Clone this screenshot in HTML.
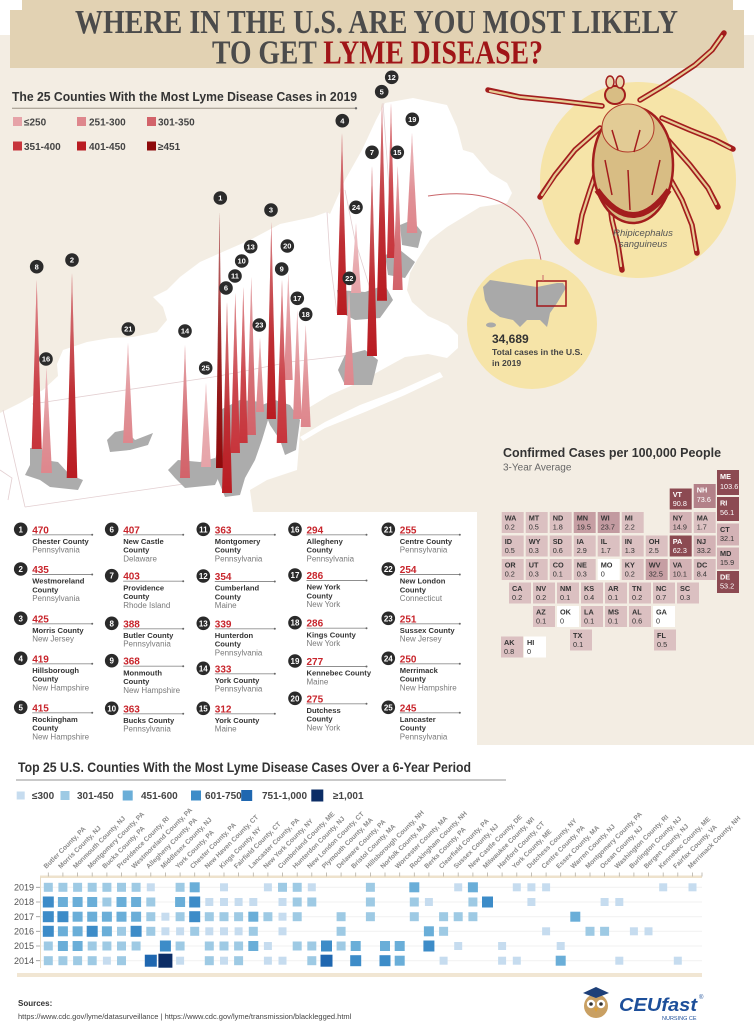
<!DOCTYPE html>
<html><head><meta charset="utf-8"><style>
html,body{margin:0;padding:0;background:#fff}
svg{display:block}
.nm{font-family:"Liberation Sans",sans-serif;font-weight:bold;font-size:7.6px;fill:#333}
.st{font-family:"Liberation Sans",sans-serif;font-size:8px;fill:#7a7a7a}
.num{font-family:"Liberation Sans",sans-serif;font-weight:bold;font-size:10px;fill:#c8252c}
.cn{font-family:"Liberation Sans",sans-serif;font-weight:bold;font-size:8px;fill:#fff;text-anchor:middle}
.sn{font-family:"Liberation Sans",sans-serif;font-weight:bold;font-size:7.5px;fill:#fff;text-anchor:middle}
.ul{stroke:#8f8f8f;stroke-width:0.9}
.lg{font-family:"Liberation Sans",sans-serif;font-weight:bold;font-size:10px;fill:#444}
.ta{font-family:"Liberation Sans",sans-serif;font-weight:bold;font-size:7.3px}
.tv{font-family:"Liberation Sans",sans-serif;font-size:7.3px}
.cl{font-family:"Liberation Sans",sans-serif;font-weight:bold;font-size:6.7px;fill:#8a8a8a}
.yr{font-family:"Liberation Sans",sans-serif;font-size:9px;fill:#555;text-anchor:end}
.sl{stroke:#e3cfd1;stroke-width:0.8;fill:none}
</style></head><body>
<svg width="754" height="1035" viewBox="0 0 754 1035" xmlns="http://www.w3.org/2000/svg">
<defs>
<rect id="h1" x="-4" y="-4" width="8" height="8" fill="#c6dcef"/>
<rect id="h2" x="-4.5" y="-4.5" width="9" height="9" fill="#9ecae4"/>
<rect id="h3" x="-5" y="-5" width="10" height="10" fill="#6aaed8"/>
<rect id="h4" x="-5.5" y="-5.5" width="11" height="11" fill="#3d8cc8"/>
<rect id="h5" x="-6" y="-6" width="12" height="12" fill="#1f67b0"/>
<rect id="h6" x="-7" y="-7" width="14" height="14" fill="#0c2d66"/>
<linearGradient id="fd" x1="0" y1="0" x2="0" y2="1">
<stop offset="0" stop-color="#fff" stop-opacity="0.45"/>
<stop offset="0.6" stop-color="#fff" stop-opacity="0.08"/>
<stop offset="1" stop-color="#fff" stop-opacity="0"/>
</linearGradient>
<polygon id="s19" points="412,133 406.7,233 417.3,233"/>
<polygon id="s12" points="391,103 387,258 395,258"/>
<polygon id="s15" points="397.7,166 392.7,290 402.7,290"/>
<polygon id="s24" points="356,223 351,293 361,293"/>
<polygon id="s5" points="382,103 377,300.7 387,300.7"/>
<polygon id="s4" points="342,133 337,315 347,315"/>
<polygon id="s7" points="372,166 367,356 377,356"/>
<polygon id="s20" points="288.3,273 284,380 292.7,380"/>
<polygon id="s22" points="349,290 344,385 354,385"/>
<polygon id="s23" points="260,338 256,412 264,412"/>
<polygon id="s3" points="271.3,222 266.7,419 276,419"/>
<polygon id="s17" points="297.3,310 293,419 301.7,419"/>
<polygon id="s18" points="305.7,325 300.7,427 310.7,427"/>
<polygon id="s13" points="251.3,277 246.7,435 256,435"/>
<polygon id="s9" points="282,280 276.7,443 287.3,443"/>
<polygon id="s10" points="243.3,287 239,443 247.7,443"/>
<polygon id="s21" points="128,343 123,443 133,443"/>
<polygon id="s8" points="36.7,280 31.7,449 41.7,449"/>
<polygon id="s11" points="235.3,293 230.7,453 240,453"/>
<polygon id="s25" points="206,383 201,467 211,467"/>
<polygon id="s1" points="219.5,212 216,468 223,468"/>
<polygon id="s16" points="46.5,368 41,473 52,473"/>
<polygon id="s2" points="72,273 66.7,478 77.3,478"/>
<polygon id="s14" points="185,345 180,478 190,478"/>
<polygon id="s6" points="227,302 222,493 232,493"/>
</defs>
<!-- backgrounds -->
<rect x="0" y="0" width="754" height="1035" fill="#fff"/>
<rect x="0" y="35" width="754" height="710" fill="#f3ede3"/>
<polygon points="22,0 733,0 733,10 744,10 744,68 10,68 10,10 22,10" fill="#e2d2b3"/>
<text x="75" y="33" font-family="Liberation Serif,serif" font-weight="bold" font-size="34" fill="#4b4b4b" textLength="603" lengthAdjust="spacingAndGlyphs">WHERE IN THE U.S. ARE YOU MOST LIKELY</text>
<text x="212" y="63.5" font-family="Liberation Serif,serif" font-weight="bold" font-size="34" fill="#4b4b4b" textLength="331" lengthAdjust="spacingAndGlyphs">TO GET <tspan fill="#a01518">LYME DISEASE?</tspan></text>

<!-- map land -->
<path d="M0,413 L20,403 L43,390 L58,376 L57,364 L63,350 L87,342 L110,338 L133,337 L157,332 L167,320 L163,307 L153,297 L167,290 L180,277 L200,262 L227,250 L250,240 L280,224 L313,217 L327,212 L330,214 L345,180 L362,150 L376,120 L385,103 L413,98 L447,105 L457,127 L463,150 L473,153 L490,173 L507,183 L512,193 L507,203 L480,207 L447,227 L430,240 L417,260 L410,273 L407,290 L412,302 L428,316 L448,325 L458,335 L458,348 L447,358 L428,354 L405,357 L385,368 L360,382 L330,395 L305,410 L300,433 L297,470 L267,480 L250,490 L253,512 L0,512 Z" fill="#fff"/>
<path d="M300,437 L325,422 L360,405 L400,390 L440,372 L443,377 L405,395 L365,412 L325,428 L303,441 Z" fill="#fff"/>
<!-- state lines -->
<path class="sl" d="M3,410 L25,507 M32,404 L213,377 L240,372 L290,362 L360,354 M25,507 L177,485 L215,480 M327,212 L330,260 L337,313 M345,190 L355,240 L372,295 M383,103 L392,230 M0,470 L12,478 L8,500"/>
<!-- gray counties -->
<g fill="#acacac">
<polygon points="30,448 42,448 44,460 58,462 70,475 83,480 78,490 50,487 40,480 25,475 30,465"/>
<polygon points="107,440 115,432 125,430 135,440 153,433 148,445 130,450 110,452"/>
<polygon points="168,470 178,460 200,462 215,458 222,470 215,485 185,488 175,478"/>
<polygon points="220,410 240,400 262,402 268,420 262,440 255,460 245,478 240,495 225,497 218,480 215,460 220,440"/>
<polygon points="262,405 275,400 290,405 300,420 296,450 285,455 280,440 270,425"/>
<polygon points="345,355 365,350 378,360 372,385 345,385 338,370"/>
<polygon points="337,290 365,292 385,285 393,300 380,318 355,320 340,312"/>
<polygon points="385,255 400,250 415,262 405,278 388,275"/>
<polygon points="400,225 412,220 422,232 418,248 402,245"/>
</g>
<!-- callout -->
<path d="M428,196 Q540,180 543,281" stroke="#c9666a" stroke-width="1" fill="none"/>
<!-- spikes -->
<g>
<use href="#s19" fill="#de878d"/><use href="#s19" fill="url(#fd)"/>
<use href="#s12" fill="#c7353c"/><use href="#s12" fill="url(#fd)"/>
<use href="#s15" fill="#d2636a"/><use href="#s15" fill="url(#fd)"/>
<use href="#s24" fill="#e6a3a8"/><use href="#s24" fill="url(#fd)"/>
<use href="#s5" fill="#b91c22"/><use href="#s5" fill="url(#fd)"/>
<use href="#s4" fill="#b91c22"/><use href="#s4" fill="url(#fd)"/>
<use href="#s7" fill="#b91c22"/><use href="#s7" fill="url(#fd)"/>
<use href="#s20" fill="#de878d"/><use href="#s20" fill="url(#fd)"/>
<use href="#s22" fill="#de878d"/><use href="#s22" fill="url(#fd)"/>
<use href="#s23" fill="#de878d"/><use href="#s23" fill="url(#fd)"/>
<use href="#s3" fill="#b91c22"/><use href="#s3" fill="url(#fd)"/>
<use href="#s17" fill="#de878d"/><use href="#s17" fill="url(#fd)"/>
<use href="#s18" fill="#de878d"/><use href="#s18" fill="url(#fd)"/>
<use href="#s13" fill="#d2636a"/><use href="#s13" fill="url(#fd)"/>
<use href="#s9" fill="#c7353c"/><use href="#s9" fill="url(#fd)"/>
<use href="#s10" fill="#c7353c"/><use href="#s10" fill="url(#fd)"/>
<use href="#s21" fill="#de878d"/><use href="#s21" fill="url(#fd)"/>
<use href="#s8" fill="#c7353c"/><use href="#s8" fill="url(#fd)"/>
<use href="#s11" fill="#c7353c"/><use href="#s11" fill="url(#fd)"/>
<use href="#s25" fill="#e6a3a8"/><use href="#s25" fill="url(#fd)"/>
<use href="#s1" fill="#8e0a0b"/><use href="#s1" fill="url(#fd)"/>
<use href="#s16" fill="#de878d"/><use href="#s16" fill="url(#fd)"/>
<use href="#s2" fill="#b91c22"/><use href="#s2" fill="url(#fd)"/>
<use href="#s14" fill="#d2636a"/><use href="#s14" fill="url(#fd)"/>
<use href="#s6" fill="#b91c22"/><use href="#s6" fill="url(#fd)"/>
</g>
<!-- spike circles -->
<g fill="#2b2b2b">
<circle cx="220.3" cy="198" r="6.8"/><circle cx="72" cy="260" r="6.8"/><circle cx="271" cy="210" r="6.8"/><circle cx="342.3" cy="120.7" r="6.8"/><circle cx="381.7" cy="91.7" r="6.8"/><circle cx="226" cy="288" r="6.8"/><circle cx="372" cy="152.3" r="6.8"/><circle cx="36.7" cy="266.7" r="6.8"/><circle cx="281.7" cy="269" r="6.8"/><circle cx="241.7" cy="261" r="6.8"/><circle cx="235" cy="276" r="6.8"/><circle cx="391.7" cy="77.3" r="6.8"/><circle cx="250.7" cy="246.7" r="6.8"/><circle cx="185" cy="331" r="6.8"/><circle cx="397.3" cy="152.3" r="6.8"/><circle cx="46" cy="359" r="6.8"/><circle cx="297.3" cy="298.3" r="6.8"/><circle cx="305.7" cy="314.3" r="6.8"/><circle cx="412.3" cy="119.3" r="6.8"/><circle cx="287.3" cy="246" r="6.8"/><circle cx="128.3" cy="329" r="6.8"/><circle cx="349.3" cy="278.3" r="6.8"/><circle cx="259.3" cy="325" r="6.8"/><circle cx="356" cy="207.3" r="6.8"/><circle cx="205.7" cy="368" r="6.8"/>
</g>
<g class="sn">
<text class="sn" x="220.3" y="200.7">1</text><text class="sn" x="72" y="262.7">2</text><text class="sn" x="271" y="212.7">3</text><text class="sn" x="342.3" y="123.4">4</text><text class="sn" x="381.7" y="94.4">5</text><text class="sn" x="226" y="290.7">6</text><text class="sn" x="372" y="155">7</text><text class="sn" x="36.7" y="269.4">8</text><text class="sn" x="281.7" y="271.7">9</text><text class="sn" x="241.7" y="263.7">10</text><text class="sn" x="235" y="278.7">11</text><text class="sn" x="391.7" y="80">12</text><text class="sn" x="250.7" y="249.4">13</text><text class="sn" x="185" y="333.7">14</text><text class="sn" x="397.3" y="155">15</text><text class="sn" x="46" y="361.7">16</text><text class="sn" x="297.3" y="301">17</text><text class="sn" x="305.7" y="317">18</text><text class="sn" x="412.3" y="122">19</text><text class="sn" x="287.3" y="248.7">20</text><text class="sn" x="128.3" y="331.7">21</text><text class="sn" x="349.3" y="281">22</text><text class="sn" x="259.3" y="327.7">23</text><text class="sn" x="356" y="210">24</text><text class="sn" x="205.7" y="370.7">25</text>
</g>

<!-- subtitle & legend -->
<text x="12" y="101" font-family="Liberation Sans,sans-serif" font-weight="bold" font-size="13" fill="#333" textLength="345" lengthAdjust="spacingAndGlyphs">The 25 Counties With the Most Lyme Disease Cases in 2019</text>
<line x1="12" y1="108.3" x2="356" y2="108.3" stroke="#9a9184" stroke-width="1"/>
<circle cx="356" cy="108.3" r="1.2" fill="#6a6a6a"/>
<rect x="13" y="117" width="9" height="9" fill="#e6a3a8"/><text class="lg" x="24" y="125.5">≤250</text>
<rect x="77" y="117" width="9" height="9" fill="#de878d"/><text class="lg" x="89" y="125.5">251-300</text>
<rect x="147" y="117" width="9" height="9" fill="#d2636a"/><text class="lg" x="158" y="125.5">301-350</text>
<rect x="13" y="141.5" width="9" height="9" fill="#c7353c"/><text class="lg" x="24" y="150">351-400</text>
<rect x="77" y="141.5" width="9" height="9" fill="#b91c22"/><text class="lg" x="89" y="150">401-450</text>
<rect x="147" y="141.5" width="9" height="9" fill="#8e0a0b"/><text class="lg" x="158" y="150">≥451</text>

<!-- tick illustration -->
<circle cx="638" cy="180" r="98" fill="#f6e4a8"/>
<g stroke-linecap="round" stroke-linejoin="round" fill="none">
<g stroke="#a31d1d" stroke-width="5.5">
<path d="M602,106 L560,101 L520,97 L488,90"/>
<path d="M640,100 L665,85 L695,65 L712,50 L724,33"/>
<path d="M600,128 L575,150 L555,175 L540,197"/>
<path d="M662,118 L690,130 L715,140 L733,149"/>
<path d="M602,155 L590,190 L582,215 L577,242"/>
<path d="M668,140 L690,165 L708,188 L718,207"/>
<path d="M608,190 L612,220 L618,245 L622,270"/>
<path d="M668,175 L682,200 L692,225 L697,253"/>
</g>
<g stroke="#e6cc95" stroke-width="2.2">
<path d="M602,106 L560,101 L520,97 L490,91"/>
<path d="M640,100 L665,85 L695,65 L712,50 L722,36"/>
<path d="M600,128 L575,150 L555,175 L542,195"/>
<path d="M662,118 L690,130 L715,140 L730,148"/>
<path d="M602,155 L590,190 L582,215 L578,238"/>
<path d="M668,140 L690,165 L708,188 L716,204"/>
<path d="M608,190 L612,220 L618,245 L621,266"/>
<path d="M668,175 L682,200 L692,225 L696,250"/>
</g>
</g>
<ellipse cx="633" cy="165" rx="40" ry="58" fill="#d8bd84" stroke="#a31d1d" stroke-width="2.5"/>
<path d="M597,190 Q633,240 669,190" stroke="#a31d1d" stroke-width="6" fill="none"/>
<ellipse cx="628" cy="128" rx="26" ry="24" fill="#e2cb95" stroke="#b23a2a" stroke-width="1"/>
<path d="M612,130 L618,150 M640,130 L634,152 M605,160 L612,195 M660,160 L652,195 M628,170 L630,210" stroke="#a31d1d" stroke-width="1.5" fill="none"/>
<ellipse cx="615" cy="95" rx="10" ry="9" fill="#d8bd84" stroke="#a31d1d" stroke-width="2"/>
<ellipse cx="610" cy="82" rx="4" ry="6" fill="#e8d6ad" stroke="#a31d1d" stroke-width="1.5"/>
<ellipse cx="620" cy="82" rx="4" ry="6" fill="#e8d6ad" stroke="#a31d1d" stroke-width="1.5"/>
<text x="643" y="236" font-family="Liberation Sans,sans-serif" font-style="italic" font-size="9.5" fill="#555" text-anchor="middle">Rhipicephalus</text>
<text x="643" y="247" font-family="Liberation Sans,sans-serif" font-style="italic" font-size="9.5" fill="#555" text-anchor="middle">sanguineus</text>

<!-- small circle -->
<circle cx="532" cy="324" r="65" fill="#f6e4a8"/>
<polygon points="483,287 490,280 537,287 557,283 563,283 566,288 557,303 550,313 548,323 547,327 540,320 527,320 520,327 513,320 500,317 490,310 485,300" fill="#a9a9a9"/>
<ellipse cx="491" cy="325" rx="5" ry="2.5" fill="#a9a9a9"/>
<rect x="537" y="281" width="29" height="25" fill="none" stroke="#a3161a" stroke-width="1.5"/>
<path d="M543,281 L543,275" stroke="#c9666a" stroke-width="1"/>
<text x="492" y="343" font-family="Liberation Sans,sans-serif" font-weight="bold" font-size="12" fill="#333">34,689</text>
<text x="492" y="355" font-family="Liberation Sans,sans-serif" font-weight="bold" font-size="8.6" fill="#444">Total cases in the U.S.</text>
<text x="492" y="366" font-family="Liberation Sans,sans-serif" font-weight="bold" font-size="8.6" fill="#444">in 2019</text>

<!-- county list box -->
<rect x="0" y="512" width="477" height="233" fill="#fff"/>
<g>
<circle cx="20.7" cy="529.3" r="6.8" fill="#2a2a2a"/><text class="cn" x="20.7" y="532.3">1</text><text class="num" x="32.2" y="533.3">470</text><line class="ul" x1="32.2" y1="534.8" x2="92.2" y2="534.8"/><circle cx="92.2" cy="534.8" r="1" fill="#666"/><text class="nm" x="32.2" y="544">Chester County</text><text class="st" x="32.2" y="552.7">Pennsylvania</text>
<circle cx="20.7" cy="569" r="6.8" fill="#2a2a2a"/><text class="cn" x="20.7" y="572">2</text><text class="num" x="32.2" y="573">435</text><line class="ul" x1="32.2" y1="574.5" x2="92.2" y2="574.5"/><circle cx="92.2" cy="574.5" r="1" fill="#666"/><text class="nm" x="32.2" y="583.7">Westmoreland</text><text class="nm" x="32.2" y="592.4">County</text><text class="st" x="32.2" y="601.1">Pennsylvania</text>
<circle cx="20.7" cy="618.3" r="6.8" fill="#2a2a2a"/><text class="cn" x="20.7" y="621.3">3</text><text class="num" x="32.2" y="622.3">425</text><line class="ul" x1="32.2" y1="623.8" x2="92.2" y2="623.8"/><circle cx="92.2" cy="623.8" r="1" fill="#666"/><text class="nm" x="32.2" y="633">Morris County</text><text class="st" x="32.2" y="641.7">New Jersey</text>
<circle cx="20.7" cy="658.3" r="6.8" fill="#2a2a2a"/><text class="cn" x="20.7" y="661.3">4</text><text class="num" x="32.2" y="662.3">419</text><line class="ul" x1="32.2" y1="663.8" x2="92.2" y2="663.8"/><circle cx="92.2" cy="663.8" r="1" fill="#666"/><text class="nm" x="32.2" y="673">Hillsborough</text><text class="nm" x="32.2" y="681.7">County</text><text class="st" x="32.2" y="690.4">New Hampshire</text>
<circle cx="20.7" cy="707.3" r="6.8" fill="#2a2a2a"/><text class="cn" x="20.7" y="710.3">5</text><text class="num" x="32.2" y="711.3">415</text><line class="ul" x1="32.2" y1="712.8" x2="92.2" y2="712.8"/><circle cx="92.2" cy="712.8" r="1" fill="#666"/><text class="nm" x="32.2" y="722">Rockingham</text><text class="nm" x="32.2" y="730.7">County</text><text class="st" x="32.2" y="739.4">New Hampshire</text>
<circle cx="111.7" cy="529.3" r="6.8" fill="#2a2a2a"/><text class="cn" x="111.7" y="532.3">6</text><text class="num" x="123.2" y="533.3">407</text><line class="ul" x1="123.2" y1="534.8" x2="183.2" y2="534.8"/><circle cx="183.2" cy="534.8" r="1" fill="#666"/><text class="nm" x="123.2" y="544">New Castle</text><text class="nm" x="123.2" y="552.7">County</text><text class="st" x="123.2" y="561.4">Delaware</text>
<circle cx="111.7" cy="575.7" r="6.8" fill="#2a2a2a"/><text class="cn" x="111.7" y="578.7">7</text><text class="num" x="123.2" y="579.7">403</text><line class="ul" x1="123.2" y1="581.2" x2="183.2" y2="581.2"/><circle cx="183.2" cy="581.2" r="1" fill="#666"/><text class="nm" x="123.2" y="590.4">Providence</text><text class="nm" x="123.2" y="599.1">County</text><text class="st" x="123.2" y="607.8">Rhode Island</text>
<circle cx="111.7" cy="623.3" r="6.8" fill="#2a2a2a"/><text class="cn" x="111.7" y="626.3">8</text><text class="num" x="123.2" y="627.3">388</text><line class="ul" x1="123.2" y1="628.8" x2="183.2" y2="628.8"/><circle cx="183.2" cy="628.8" r="1" fill="#666"/><text class="nm" x="123.2" y="638">Butler County</text><text class="st" x="123.2" y="646.7">Pennsylvania</text>
<circle cx="111.7" cy="660.7" r="6.8" fill="#2a2a2a"/><text class="cn" x="111.7" y="663.7">9</text><text class="num" x="123.2" y="664.7">368</text><line class="ul" x1="123.2" y1="666.2" x2="183.2" y2="666.2"/><circle cx="183.2" cy="666.2" r="1" fill="#666"/><text class="nm" x="123.2" y="675.4">Monmouth</text><text class="nm" x="123.2" y="684.1">County</text><text class="st" x="123.2" y="692.8">New Hampshire</text>
<circle cx="111.7" cy="708.3" r="6.8" fill="#2a2a2a"/><text class="cn" x="111.7" y="711.3">10</text><text class="num" x="123.2" y="712.3">363</text><line class="ul" x1="123.2" y1="713.8" x2="183.2" y2="713.8"/><circle cx="183.2" cy="713.8" r="1" fill="#666"/><text class="nm" x="123.2" y="723">Bucks County</text><text class="st" x="123.2" y="731.7">Pennsylvania</text>
<circle cx="203.3" cy="529.3" r="6.8" fill="#2a2a2a"/><text class="cn" x="203.3" y="532.3">11</text><text class="num" x="214.8" y="533.3">363</text><line class="ul" x1="214.8" y1="534.8" x2="274.8" y2="534.8"/><circle cx="274.8" cy="534.8" r="1" fill="#666"/><text class="nm" x="214.8" y="544">Montgomery</text><text class="nm" x="214.8" y="552.7">County</text><text class="st" x="214.8" y="561.4">Pennsylvania</text>
<circle cx="203.3" cy="576" r="6.8" fill="#2a2a2a"/><text class="cn" x="203.3" y="579">12</text><text class="num" x="214.8" y="580">354</text><line class="ul" x1="214.8" y1="581.5" x2="274.8" y2="581.5"/><circle cx="274.8" cy="581.5" r="1" fill="#666"/><text class="nm" x="214.8" y="590.7">Cumberland</text><text class="nm" x="214.8" y="599.4">County</text><text class="st" x="214.8" y="608.1">Maine</text>
<circle cx="203.3" cy="623.3" r="6.8" fill="#2a2a2a"/><text class="cn" x="203.3" y="626.3">13</text><text class="num" x="214.8" y="627.3">339</text><line class="ul" x1="214.8" y1="628.8" x2="274.8" y2="628.8"/><circle cx="274.8" cy="628.8" r="1" fill="#666"/><text class="nm" x="214.8" y="638">Hunterdon</text><text class="nm" x="214.8" y="646.7">County</text><text class="st" x="214.8" y="655.4">Pennsylvania</text>
<circle cx="203.3" cy="668.3" r="6.8" fill="#2a2a2a"/><text class="cn" x="203.3" y="671.3">14</text><text class="num" x="214.8" y="672.3">333</text><line class="ul" x1="214.8" y1="673.8" x2="274.8" y2="673.8"/><circle cx="274.8" cy="673.8" r="1" fill="#666"/><text class="nm" x="214.8" y="683">York County</text><text class="st" x="214.8" y="691.7">Pennsylvania</text>
<circle cx="203.3" cy="708.3" r="6.8" fill="#2a2a2a"/><text class="cn" x="203.3" y="711.3">15</text><text class="num" x="214.8" y="712.3">312</text><line class="ul" x1="214.8" y1="713.8" x2="274.8" y2="713.8"/><circle cx="274.8" cy="713.8" r="1" fill="#666"/><text class="nm" x="214.8" y="723">York County</text><text class="st" x="214.8" y="731.7">Maine</text>
<circle cx="295" cy="529.3" r="6.8" fill="#2a2a2a"/><text class="cn" x="295" y="532.3">16</text><text class="num" x="306.5" y="533.3">294</text><line class="ul" x1="306.5" y1="534.8" x2="366.5" y2="534.8"/><circle cx="366.5" cy="534.8" r="1" fill="#666"/><text class="nm" x="306.5" y="544">Allegheny</text><text class="nm" x="306.5" y="552.7">County</text><text class="st" x="306.5" y="561.4">Pennsylvania</text>
<circle cx="295" cy="575" r="6.8" fill="#2a2a2a"/><text class="cn" x="295" y="578">17</text><text class="num" x="306.5" y="579">286</text><line class="ul" x1="306.5" y1="580.5" x2="366.5" y2="580.5"/><circle cx="366.5" cy="580.5" r="1" fill="#666"/><text class="nm" x="306.5" y="589.7">New York</text><text class="nm" x="306.5" y="598.4">County</text><text class="st" x="306.5" y="607.1">New York</text>
<circle cx="295" cy="622.7" r="6.8" fill="#2a2a2a"/><text class="cn" x="295" y="625.7">18</text><text class="num" x="306.5" y="626.7">286</text><line class="ul" x1="306.5" y1="628.2" x2="366.5" y2="628.2"/><circle cx="366.5" cy="628.2" r="1" fill="#666"/><text class="nm" x="306.5" y="637.4">Kings County</text><text class="st" x="306.5" y="646.1">New York</text>
<circle cx="295" cy="661" r="6.8" fill="#2a2a2a"/><text class="cn" x="295" y="664">19</text><text class="num" x="306.5" y="665">277</text><line class="ul" x1="306.5" y1="666.5" x2="366.5" y2="666.5"/><circle cx="366.5" cy="666.5" r="1" fill="#666"/><text class="nm" x="306.5" y="675.7">Kennebec County</text><text class="st" x="306.5" y="684.4">Maine</text>
<circle cx="295" cy="698.3" r="6.8" fill="#2a2a2a"/><text class="cn" x="295" y="701.3">20</text><text class="num" x="306.5" y="702.3">275</text><line class="ul" x1="306.5" y1="703.8" x2="366.5" y2="703.8"/><circle cx="366.5" cy="703.8" r="1" fill="#666"/><text class="nm" x="306.5" y="713">Dutchess</text><text class="nm" x="306.5" y="721.7">County</text><text class="st" x="306.5" y="730.4">New York</text>
<circle cx="388.3" cy="529.3" r="6.8" fill="#2a2a2a"/><text class="cn" x="388.3" y="532.3">21</text><text class="num" x="399.8" y="533.3">255</text><line class="ul" x1="399.8" y1="534.8" x2="459.8" y2="534.8"/><circle cx="459.8" cy="534.8" r="1" fill="#666"/><text class="nm" x="399.8" y="544">Centre County</text><text class="st" x="399.8" y="552.7">Pennsylvania</text>
<circle cx="388.3" cy="569" r="6.8" fill="#2a2a2a"/><text class="cn" x="388.3" y="572">22</text><text class="num" x="399.8" y="573">254</text><line class="ul" x1="399.8" y1="574.5" x2="459.8" y2="574.5"/><circle cx="459.8" cy="574.5" r="1" fill="#666"/><text class="nm" x="399.8" y="583.7">New London</text><text class="nm" x="399.8" y="592.4">County</text><text class="st" x="399.8" y="601.1">Connecticut</text>
<circle cx="388.3" cy="618.3" r="6.8" fill="#2a2a2a"/><text class="cn" x="388.3" y="621.3">23</text><text class="num" x="399.8" y="622.3">251</text><line class="ul" x1="399.8" y1="623.8" x2="459.8" y2="623.8"/><circle cx="459.8" cy="623.8" r="1" fill="#666"/><text class="nm" x="399.8" y="633">Sussex County</text><text class="st" x="399.8" y="641.7">New Jersey</text>
<circle cx="388.3" cy="658.3" r="6.8" fill="#2a2a2a"/><text class="cn" x="388.3" y="661.3">24</text><text class="num" x="399.8" y="662.3">250</text><line class="ul" x1="399.8" y1="663.8" x2="459.8" y2="663.8"/><circle cx="459.8" cy="663.8" r="1" fill="#666"/><text class="nm" x="399.8" y="673">Merrimack</text><text class="nm" x="399.8" y="681.7">County</text><text class="st" x="399.8" y="690.4">New Hampshire</text>
<circle cx="388.3" cy="707.3" r="6.8" fill="#2a2a2a"/><text class="cn" x="388.3" y="710.3">25</text><text class="num" x="399.8" y="711.3">245</text><line class="ul" x1="399.8" y1="712.8" x2="459.8" y2="712.8"/><circle cx="459.8" cy="712.8" r="1" fill="#666"/><text class="nm" x="399.8" y="722">Lancaster</text><text class="nm" x="399.8" y="730.7">County</text><text class="st" x="399.8" y="739.4">Pennsylvania</text>
</g>

<!-- tile map -->
<text x="503" y="457" font-family="Liberation Sans,sans-serif" font-weight="bold" font-size="13" fill="#333" textLength="218" lengthAdjust="spacingAndGlyphs">Confirmed Cases per 100,000 People</text>
<text x="503" y="470.5" font-family="Liberation Sans,sans-serif" font-size="10" fill="#666">3-Year Average</text>
<g>
<rect x="717" y="470" width="22" height="25" fill="#8c4a52"/><text class="ta" x="720" y="479" fill="#fff">ME</text><text class="tv" x="720" y="489" fill="#fff">103.6</text>
<rect x="693.7" y="484" width="22" height="24" fill="#b38189"/><text class="ta" x="696.7" y="492.5" fill="#fff">NH</text><text class="tv" x="696.7" y="502" fill="#fff">73.6</text>
<rect x="669.7" y="488.5" width="22" height="21" fill="#8c4a52"/><text class="ta" x="672.7" y="497" fill="#fff">VT</text><text class="tv" x="672.7" y="506" fill="#fff">90.8</text>
<rect x="717" y="497" width="22" height="24" fill="#8c4a52"/><text class="ta" x="720" y="505.5" fill="#fff">RI</text><text class="tv" x="720" y="515" fill="#fff">56.1</text>
<rect x="717" y="523.5" width="22" height="22" fill="#d3b2b5"/><text class="ta" x="720" y="532" fill="#333">CT</text><text class="tv" x="720" y="541" fill="#333">32.1</text>
<rect x="717" y="547.5" width="22" height="22" fill="#d3b2b5"/><text class="ta" x="720" y="556" fill="#333">MD</text><text class="tv" x="720" y="565" fill="#333">15.9</text>
<rect x="717" y="571" width="22" height="22" fill="#8c4a52"/><text class="ta" x="720" y="579.5" fill="#fff">DE</text><text class="tv" x="720" y="588.5" fill="#fff">53.2</text>
<rect x="501.7" y="512" width="22" height="21" fill="#dbc0c1"/><text class="ta" x="504.7" y="520.5" fill="#333">WA</text><text class="tv" x="504.7" y="529.5" fill="#333">0.2</text>
<rect x="525.7" y="512" width="22" height="21" fill="#dbc0c1"/><text class="ta" x="528.7" y="520.5" fill="#333">MT</text><text class="tv" x="528.7" y="529.5" fill="#333">0.5</text>
<rect x="549.7" y="512" width="22" height="21" fill="#dbc0c1"/><text class="ta" x="552.7" y="520.5" fill="#333">ND</text><text class="tv" x="552.7" y="529.5" fill="#333">1.8</text>
<rect x="573.7" y="512" width="22" height="21" fill="#c69ea3"/><text class="ta" x="576.7" y="520.5" fill="#333">MN</text><text class="tv" x="576.7" y="529.5" fill="#333">19.5</text>
<rect x="597.7" y="512" width="22" height="21" fill="#c29aa0"/><text class="ta" x="600.7" y="520.5" fill="#333">WI</text><text class="tv" x="600.7" y="529.5" fill="#333">23.7</text>
<rect x="621.7" y="512" width="22" height="21" fill="#dbc0c1"/><text class="ta" x="624.7" y="520.5" fill="#333">MI</text><text class="tv" x="624.7" y="529.5" fill="#333">2.2</text>
<rect x="669.7" y="512" width="22" height="21" fill="#d3b2b5"/><text class="ta" x="672.7" y="520.5" fill="#333">NY</text><text class="tv" x="672.7" y="529.5" fill="#333">14.9</text>
<rect x="693.7" y="512" width="22" height="21" fill="#dbc0c1"/><text class="ta" x="696.7" y="520.5" fill="#333">MA</text><text class="tv" x="696.7" y="529.5" fill="#333">1.7</text>
<rect x="501.7" y="535.5" width="22" height="21" fill="#dbc0c1"/><text class="ta" x="504.7" y="544" fill="#333">ID</text><text class="tv" x="504.7" y="553" fill="#333">0.5</text>
<rect x="525.7" y="535.5" width="22" height="21" fill="#dbc0c1"/><text class="ta" x="528.7" y="544" fill="#333">WY</text><text class="tv" x="528.7" y="553" fill="#333">0.3</text>
<rect x="549.7" y="535.5" width="22" height="21" fill="#dbc0c1"/><text class="ta" x="552.7" y="544" fill="#333">SD</text><text class="tv" x="552.7" y="553" fill="#333">0.6</text>
<rect x="573.7" y="535.5" width="22" height="21" fill="#dbc0c1"/><text class="ta" x="576.7" y="544" fill="#333">IA</text><text class="tv" x="576.7" y="553" fill="#333">2.9</text>
<rect x="597.7" y="535.5" width="22" height="21" fill="#dbc0c1"/><text class="ta" x="600.7" y="544" fill="#333">IL</text><text class="tv" x="600.7" y="553" fill="#333">1.7</text>
<rect x="621.7" y="535.5" width="22" height="21" fill="#dbc0c1"/><text class="ta" x="624.7" y="544" fill="#333">IN</text><text class="tv" x="624.7" y="553" fill="#333">1.3</text>
<rect x="645.7" y="535.5" width="22" height="21" fill="#dbc0c1"/><text class="ta" x="648.7" y="544" fill="#333">OH</text><text class="tv" x="648.7" y="553" fill="#333">2.5</text>
<rect x="669.7" y="535.5" width="22" height="21" fill="#8c4a52"/><text class="ta" x="672.7" y="544" fill="#fff">PA</text><text class="tv" x="672.7" y="553" fill="#fff">62.3</text>
<rect x="693.7" y="535.5" width="22" height="21" fill="#d3b2b5"/><text class="ta" x="696.7" y="544" fill="#333">NJ</text><text class="tv" x="696.7" y="553" fill="#333">33.2</text>
<rect x="501.7" y="559" width="22" height="21" fill="#dbc0c1"/><text class="ta" x="504.7" y="567.5" fill="#333">OR</text><text class="tv" x="504.7" y="576.5" fill="#333">0.2</text>
<rect x="525.7" y="559" width="22" height="21" fill="#dbc0c1"/><text class="ta" x="528.7" y="567.5" fill="#333">UT</text><text class="tv" x="528.7" y="576.5" fill="#333">0.3</text>
<rect x="549.7" y="559" width="22" height="21" fill="#dbc0c1"/><text class="ta" x="552.7" y="567.5" fill="#333">CO</text><text class="tv" x="552.7" y="576.5" fill="#333">0.1</text>
<rect x="573.7" y="559" width="22" height="21" fill="#dbc0c1"/><text class="ta" x="576.7" y="567.5" fill="#333">NE</text><text class="tv" x="576.7" y="576.5" fill="#333">0.3</text>
<rect x="597.7" y="559" width="22" height="21" fill="#ffffff"/><text class="ta" x="600.7" y="567.5" fill="#333">MO</text><text class="tv" x="600.7" y="576.5" fill="#333">0</text>
<rect x="621.7" y="559" width="22" height="21" fill="#dbc0c1"/><text class="ta" x="624.7" y="567.5" fill="#333">KY</text><text class="tv" x="624.7" y="576.5" fill="#333">0.2</text>
<rect x="645.7" y="559" width="22" height="21" fill="#c69ea3"/><text class="ta" x="648.7" y="567.5" fill="#333">WV</text><text class="tv" x="648.7" y="576.5" fill="#333">32.5</text>
<rect x="669.7" y="559" width="22" height="21" fill="#d3b2b5"/><text class="ta" x="672.7" y="567.5" fill="#333">VA</text><text class="tv" x="672.7" y="576.5" fill="#333">10.1</text>
<rect x="693.7" y="559" width="22" height="21" fill="#d8bbbd"/><text class="ta" x="696.7" y="567.5" fill="#333">DC</text><text class="tv" x="696.7" y="576.5" fill="#333">8.4</text>
<rect x="509" y="582.5" width="22" height="21" fill="#dbc0c1"/><text class="ta" x="512" y="591" fill="#333">CA</text><text class="tv" x="512" y="600" fill="#333">0.2</text>
<rect x="533" y="582.5" width="22" height="21" fill="#dbc0c1"/><text class="ta" x="536" y="591" fill="#333">NV</text><text class="tv" x="536" y="600" fill="#333">0.2</text>
<rect x="557" y="582.5" width="22" height="21" fill="#dbc0c1"/><text class="ta" x="560" y="591" fill="#333">NM</text><text class="tv" x="560" y="600" fill="#333">0.1</text>
<rect x="581" y="582.5" width="22" height="21" fill="#dbc0c1"/><text class="ta" x="584" y="591" fill="#333">KS</text><text class="tv" x="584" y="600" fill="#333">0.4</text>
<rect x="605" y="582.5" width="22" height="21" fill="#dbc0c1"/><text class="ta" x="608" y="591" fill="#333">AR</text><text class="tv" x="608" y="600" fill="#333">0.1</text>
<rect x="629" y="582.5" width="22" height="21" fill="#dbc0c1"/><text class="ta" x="632" y="591" fill="#333">TN</text><text class="tv" x="632" y="600" fill="#333">0.2</text>
<rect x="653" y="582.5" width="22" height="21" fill="#dbc0c1"/><text class="ta" x="656" y="591" fill="#333">NC</text><text class="tv" x="656" y="600" fill="#333">0.7</text>
<rect x="677" y="582.5" width="22" height="21" fill="#dbc0c1"/><text class="ta" x="680" y="591" fill="#333">SC</text><text class="tv" x="680" y="600" fill="#333">0.3</text>
<rect x="533" y="606" width="22" height="21" fill="#dbc0c1"/><text class="ta" x="536" y="614.5" fill="#333">AZ</text><text class="tv" x="536" y="623.5" fill="#333">0.1</text>
<rect x="557" y="606" width="22" height="21" fill="#ffffff"/><text class="ta" x="560" y="614.5" fill="#333">OK</text><text class="tv" x="560" y="623.5" fill="#333">0</text>
<rect x="581" y="606" width="22" height="21" fill="#dbc0c1"/><text class="ta" x="584" y="614.5" fill="#333">LA</text><text class="tv" x="584" y="623.5" fill="#333">0.1</text>
<rect x="605" y="606" width="22" height="21" fill="#dbc0c1"/><text class="ta" x="608" y="614.5" fill="#333">MS</text><text class="tv" x="608" y="623.5" fill="#333">0.1</text>
<rect x="629" y="606" width="22" height="21" fill="#dbc0c1"/><text class="ta" x="632" y="614.5" fill="#333">AL</text><text class="tv" x="632" y="623.5" fill="#333">0.6</text>
<rect x="653" y="606" width="22" height="21" fill="#ffffff"/><text class="ta" x="656" y="614.5" fill="#333">GA</text><text class="tv" x="656" y="623.5" fill="#333">0</text>
<rect x="570" y="629.5" width="22" height="21" fill="#dbc0c1"/><text class="ta" x="573" y="638" fill="#333">TX</text><text class="tv" x="573" y="647" fill="#333">0.1</text>
<rect x="654" y="629.5" width="22" height="21" fill="#dbc0c1"/><text class="ta" x="657" y="638" fill="#333">FL</text><text class="tv" x="657" y="647" fill="#333">0.5</text>
<rect x="501" y="636.5" width="22" height="21" fill="#dbc0c1"/><text class="ta" x="504" y="645" fill="#333">AK</text><text class="tv" x="504" y="654" fill="#333">0.8</text>
<rect x="524" y="636.5" width="22" height="21" fill="#ffffff"/><text class="ta" x="527" y="645" fill="#333">HI</text><text class="tv" x="527" y="654" fill="#333">0</text>
</g>

<!-- heatmap section -->
<text x="18" y="772" font-family="Liberation Sans,sans-serif" font-weight="bold" font-size="14" fill="#333" textLength="453" lengthAdjust="spacingAndGlyphs">Top 25 U.S. Counties With the Most Lyme Disease Cases Over a 6-Year Period</text>
<rect x="16" y="779" width="490" height="2" fill="#c9c9c9"/>
<rect x="16.7" y="791.5" width="8" height="8" fill="#c6dcef"/><text class="lg" x="32" y="799">≤300</text>
<rect x="60.5" y="791" width="9" height="9" fill="#9ecae4"/><text class="lg" x="77" y="799">301-450</text>
<rect x="122.7" y="790.5" width="10" height="10" fill="#6aaed8"/><text class="lg" x="141" y="799">451-600</text>
<rect x="191" y="790.5" width="10" height="10" fill="#3d8cc8"/><text class="lg" x="205" y="799">601-750</text>
<rect x="241.2" y="790" width="11" height="11" fill="#1f67b0"/><text class="lg" x="262" y="799">751-1,000</text>
<rect x="311.3" y="789.5" width="12" height="12" fill="#0c2d66"/><text class="lg" x="333" y="799">≥1,001</text>

<g class="cl">
<text class="cl" transform="translate(46.3,869) rotate(-45)">Butler County, PA</text>
<text class="cl" transform="translate(60.9,869) rotate(-45)">Morris County, NJ</text>
<text class="cl" transform="translate(75.6,869) rotate(-45)">Monmouth County, NJ</text>
<text class="cl" transform="translate(90.2,869) rotate(-45)">Montgomery County, PA</text>
<text class="cl" transform="translate(104.9,869) rotate(-45)">Bucks County, PA</text>
<text class="cl" transform="translate(119.5,869) rotate(-45)">Providence County, RI</text>
<text class="cl" transform="translate(134.1,869) rotate(-45)">Westmoreland County, PA</text>
<text class="cl" transform="translate(148.8,869) rotate(-45)">Allegheny County, PA</text>
<text class="cl" transform="translate(163.4,869) rotate(-45)">Middlesex County, NJ</text>
<text class="cl" transform="translate(178.1,869) rotate(-45)">York County, PA</text>
<text class="cl" transform="translate(192.7,869) rotate(-45)">Chester County, PA</text>
<text class="cl" transform="translate(207.3,869) rotate(-45)">New Haven County, CT</text>
<text class="cl" transform="translate(222,869) rotate(-45)">Kings County, NY</text>
<text class="cl" transform="translate(236.6,869) rotate(-45)">Fairfield County, CT</text>
<text class="cl" transform="translate(251.3,869) rotate(-45)">Lancaster County, PA</text>
<text class="cl" transform="translate(265.9,869) rotate(-45)">New York County, NY</text>
<text class="cl" transform="translate(280.5,869) rotate(-45)">Cumberland County, ME</text>
<text class="cl" transform="translate(295.2,869) rotate(-45)">Hunterdon County, NJ</text>
<text class="cl" transform="translate(309.8,869) rotate(-45)">New London County, CT</text>
<text class="cl" transform="translate(324.5,869) rotate(-45)">Plymouth County, MA</text>
<text class="cl" transform="translate(339.1,869) rotate(-45)">Delaware County, PA</text>
<text class="cl" transform="translate(353.7,869) rotate(-45)">Bristol County, MA</text>
<text class="cl" transform="translate(368.4,869) rotate(-45)">Hillsborough County, NH</text>
<text class="cl" transform="translate(383,869) rotate(-45)">Norfolk County, MA</text>
<text class="cl" transform="translate(397.7,869) rotate(-45)">Worcester County, MA</text>
<text class="cl" transform="translate(412.3,869) rotate(-45)">Rockingham County, NH</text>
<text class="cl" transform="translate(426.9,869) rotate(-45)">Berks County, PA</text>
<text class="cl" transform="translate(441.6,869) rotate(-45)">Clearfield County, PA</text>
<text class="cl" transform="translate(456.2,869) rotate(-45)">Sussex County, NJ</text>
<text class="cl" transform="translate(470.9,869) rotate(-45)">New Castle County, DE</text>
<text class="cl" transform="translate(485.5,869) rotate(-45)">Milwaukee County, WI</text>
<text class="cl" transform="translate(500.1,869) rotate(-45)">Hartford County, CT</text>
<text class="cl" transform="translate(514.8,869) rotate(-45)">York County, ME</text>
<text class="cl" transform="translate(529.4,869) rotate(-45)">Dutchess County, NY</text>
<text class="cl" transform="translate(544.1,869) rotate(-45)">Centre County, PA</text>
<text class="cl" transform="translate(558.7,869) rotate(-45)">Essex County, MA</text>
<text class="cl" transform="translate(573.3,869) rotate(-45)">Warren County, NJ</text>
<text class="cl" transform="translate(588,869) rotate(-45)">Montgomery County, PA</text>
<text class="cl" transform="translate(602.6,869) rotate(-45)">Ocean County, NJ</text>
<text class="cl" transform="translate(617.3,869) rotate(-45)">Washington County, RI</text>
<text class="cl" transform="translate(631.9,869) rotate(-45)">Burlington County, NJ</text>
<text class="cl" transform="translate(646.5,869) rotate(-45)">Bergen County, NJ</text>
<text class="cl" transform="translate(661.2,869) rotate(-45)">Kennebec County, ME</text>
<text class="cl" transform="translate(675.8,869) rotate(-45)">Fairfax County, VA</text>
<text class="cl" transform="translate(690.5,869) rotate(-45)">Merrimack County, NH</text>
</g>

<rect x="40" y="875.5" width="662" height="2.5" fill="#eee2cc"/>
<rect x="17" y="973" width="685" height="4" fill="#f1e6d3"/>
<line x1="40.5" y1="877" x2="40.5" y2="968" stroke="#e7dcc7" stroke-width="1"/>
<g stroke="#f1f1f1" stroke-width="1">
<line x1="41" y1="887.3" x2="702" y2="887.3"/><line x1="41" y1="902" x2="702" y2="902"/><line x1="41" y1="916.7" x2="702" y2="916.7"/><line x1="41" y1="931.3" x2="702" y2="931.3"/><line x1="41" y1="946" x2="702" y2="946"/><line x1="41" y1="960.7" x2="702" y2="960.7"/>
</g>
<path stroke="#b5b0a6" stroke-width="0.8" d="M48.3,872.5v4M62.9,872.5v4M77.6,872.5v4M92.2,872.5v4M106.9,872.5v4M121.5,872.5v4M136.1,872.5v4M150.8,872.5v4M165.4,872.5v4M180.1,872.5v4M194.7,872.5v4M209.3,872.5v4M224,872.5v4M238.6,872.5v4M253.3,872.5v4M267.9,872.5v4M282.5,872.5v4M297.2,872.5v4M311.8,872.5v4M326.5,872.5v4M341.1,872.5v4M355.7,872.5v4M370.4,872.5v4M385,872.5v4M399.7,872.5v4M414.3,872.5v4M428.9,872.5v4M443.6,872.5v4M458.2,872.5v4M472.9,872.5v4M487.5,872.5v4M502.1,872.5v4M516.8,872.5v4M531.4,872.5v4M546.1,872.5v4M560.7,872.5v4M575.3,872.5v4M590,872.5v4M604.6,872.5v4M619.3,872.5v4M633.9,872.5v4M648.5,872.5v4M663.2,872.5v4M677.8,872.5v4M692.5,872.5v4M702,872.5v4"/>
<text class="yr" x="34" y="890.5">2019</text><text class="yr" x="34" y="905.2">2018</text><text class="yr" x="34" y="919.9">2017</text><text class="yr" x="34" y="934.5">2016</text><text class="yr" x="34" y="949.2">2015</text><text class="yr" x="34" y="963.9">2014</text>
<path stroke="#999" stroke-width="0.8" d="M36,887.3h4M36,902h4M36,916.7h4M36,931.3h4M36,946h4M36,960.7h4"/>

<g>
<use href="#h2" x="48.3" y="887.3"/><use href="#h2" x="62.9" y="887.3"/><use href="#h2" x="77.6" y="887.3"/><use href="#h2" x="92.2" y="887.3"/><use href="#h2" x="106.9" y="887.3"/><use href="#h2" x="121.5" y="887.3"/><use href="#h2" x="136.1" y="887.3"/><use href="#h1" x="150.8" y="887.3"/><use href="#h2" x="180.1" y="887.3"/><use href="#h3" x="194.7" y="887.3"/><use href="#h1" x="224" y="887.3"/><use href="#h1" x="267.9" y="887.3"/><use href="#h2" x="282.5" y="887.3"/><use href="#h2" x="297.2" y="887.3"/><use href="#h1" x="311.8" y="887.3"/><use href="#h2" x="370.4" y="887.3"/><use href="#h3" x="414.3" y="887.3"/><use href="#h1" x="458.2" y="887.3"/><use href="#h3" x="472.9" y="887.3"/><use href="#h1" x="516.8" y="887.3"/><use href="#h1" x="531.4" y="887.3"/><use href="#h1" x="546.1" y="887.3"/><use href="#h1" x="663.2" y="887.3"/><use href="#h1" x="692.5" y="887.3"/>
<use href="#h4" x="48.3" y="902"/><use href="#h3" x="62.9" y="902"/><use href="#h3" x="77.6" y="902"/><use href="#h3" x="92.2" y="902"/><use href="#h2" x="106.9" y="902"/><use href="#h3" x="121.5" y="902"/><use href="#h3" x="136.1" y="902"/><use href="#h2" x="150.8" y="902"/><use href="#h3" x="180.1" y="902"/><use href="#h4" x="194.7" y="902"/><use href="#h1" x="209.3" y="902"/><use href="#h1" x="224" y="902"/><use href="#h1" x="238.6" y="902"/><use href="#h1" x="253.3" y="902"/><use href="#h1" x="282.5" y="902"/><use href="#h2" x="297.2" y="902"/><use href="#h2" x="311.8" y="902"/><use href="#h2" x="370.4" y="902"/><use href="#h2" x="414.3" y="902"/><use href="#h1" x="428.9" y="902"/><use href="#h2" x="472.9" y="902"/><use href="#h4" x="487.5" y="902"/><use href="#h1" x="531.4" y="902"/><use href="#h1" x="604.6" y="902"/><use href="#h1" x="619.3" y="902"/>
<use href="#h4" x="48.3" y="916.7"/><use href="#h4" x="62.9" y="916.7"/><use href="#h3" x="77.6" y="916.7"/><use href="#h3" x="92.2" y="916.7"/><use href="#h3" x="106.9" y="916.7"/><use href="#h3" x="121.5" y="916.7"/><use href="#h3" x="136.1" y="916.7"/><use href="#h2" x="150.8" y="916.7"/><use href="#h1" x="165.4" y="916.7"/><use href="#h2" x="180.1" y="916.7"/><use href="#h4" x="194.7" y="916.7"/><use href="#h2" x="209.3" y="916.7"/><use href="#h2" x="224" y="916.7"/><use href="#h2" x="238.6" y="916.7"/><use href="#h3" x="253.3" y="916.7"/><use href="#h2" x="267.9" y="916.7"/><use href="#h1" x="282.5" y="916.7"/><use href="#h2" x="297.2" y="916.7"/><use href="#h2" x="341.1" y="916.7"/><use href="#h2" x="370.4" y="916.7"/><use href="#h2" x="414.3" y="916.7"/><use href="#h2" x="443.6" y="916.7"/><use href="#h2" x="458.2" y="916.7"/><use href="#h2" x="472.9" y="916.7"/><use href="#h3" x="575.3" y="916.7"/>
<use href="#h4" x="48.3" y="931.3"/><use href="#h3" x="62.9" y="931.3"/><use href="#h3" x="77.6" y="931.3"/><use href="#h4" x="92.2" y="931.3"/><use href="#h3" x="106.9" y="931.3"/><use href="#h2" x="121.5" y="931.3"/><use href="#h4" x="136.1" y="931.3"/><use href="#h2" x="150.8" y="931.3"/><use href="#h1" x="165.4" y="931.3"/><use href="#h1" x="180.1" y="931.3"/><use href="#h2" x="194.7" y="931.3"/><use href="#h1" x="209.3" y="931.3"/><use href="#h1" x="224" y="931.3"/><use href="#h1" x="238.6" y="931.3"/><use href="#h2" x="253.3" y="931.3"/><use href="#h1" x="282.5" y="931.3"/><use href="#h2" x="341.1" y="931.3"/><use href="#h3" x="428.9" y="931.3"/><use href="#h2" x="443.6" y="931.3"/><use href="#h1" x="546.1" y="931.3"/><use href="#h2" x="590" y="931.3"/><use href="#h2" x="604.6" y="931.3"/><use href="#h1" x="633.9" y="931.3"/><use href="#h1" x="648.5" y="931.3"/>
<use href="#h2" x="48.3" y="946"/><use href="#h3" x="62.9" y="946"/><use href="#h3" x="77.6" y="946"/><use href="#h2" x="92.2" y="946"/><use href="#h2" x="106.9" y="946"/><use href="#h2" x="121.5" y="946"/><use href="#h2" x="136.1" y="946"/><use href="#h4" x="165.4" y="946"/><use href="#h2" x="180.1" y="946"/><use href="#h2" x="209.3" y="946"/><use href="#h2" x="224" y="946"/><use href="#h2" x="238.6" y="946"/><use href="#h3" x="253.3" y="946"/><use href="#h1" x="267.9" y="946"/><use href="#h2" x="297.2" y="946"/><use href="#h2" x="311.8" y="946"/><use href="#h4" x="326.5" y="946"/><use href="#h2" x="341.1" y="946"/><use href="#h3" x="355.7" y="946"/><use href="#h3" x="385" y="946"/><use href="#h3" x="399.7" y="946"/><use href="#h4" x="428.9" y="946"/><use href="#h1" x="458.2" y="946"/><use href="#h1" x="502.1" y="946"/><use href="#h1" x="560.7" y="946"/>
<use href="#h2" x="48.3" y="960.7"/><use href="#h2" x="62.9" y="960.7"/><use href="#h2" x="77.6" y="960.7"/><use href="#h2" x="92.2" y="960.7"/><use href="#h1" x="106.9" y="960.7"/><use href="#h2" x="121.5" y="960.7"/><use href="#h5" x="150.8" y="960.7"/><use href="#h6" x="165.4" y="960.7"/><use href="#h1" x="180.1" y="960.7"/><use href="#h2" x="209.3" y="960.7"/><use href="#h1" x="224" y="960.7"/><use href="#h2" x="238.6" y="960.7"/><use href="#h1" x="267.9" y="960.7"/><use href="#h1" x="282.5" y="960.7"/><use href="#h2" x="311.8" y="960.7"/><use href="#h5" x="326.5" y="960.7"/><use href="#h4" x="355.7" y="960.7"/><use href="#h4" x="385" y="960.7"/><use href="#h3" x="399.7" y="960.7"/><use href="#h1" x="443.6" y="960.7"/><use href="#h1" x="502.1" y="960.7"/><use href="#h1" x="516.8" y="960.7"/><use href="#h3" x="560.7" y="960.7"/><use href="#h1" x="619.3" y="960.7"/><use href="#h1" x="677.8" y="960.7"/>
</g>

<!-- footer -->
<text x="18" y="1006" font-family="Liberation Sans,sans-serif" font-weight="bold" font-size="8" fill="#333">Sources:</text>
<text x="18" y="1019" font-family="Liberation Sans,sans-serif" font-size="7.5" fill="#444">https://www.cdc.gov/lyme/datasurveillance  |  https://www.cdc.gov/lyme/transmission/blacklegged.html</text>
<circle cx="596" cy="1006" r="12" fill="#c9a063"/>
<circle cx="591" cy="1004" r="4.2" fill="#fff"/><circle cx="601" cy="1004" r="4.2" fill="#fff"/>
<circle cx="591" cy="1004" r="1.8" fill="#333"/><circle cx="601" cy="1004" r="1.8" fill="#333"/>
<polygon points="583,993 596,987 609,993 596,998" fill="#1d3f78"/>
<polygon points="594,1008 598,1008 596,1012" fill="#e0a030"/>
<text x="619" y="1011" font-family="Liberation Sans,sans-serif" font-weight="bold" font-style="italic" font-size="18" fill="#1d4f9a" textLength="78" lengthAdjust="spacingAndGlyphs">CEUfast</text>
<text x="699" y="999" font-family="Liberation Sans,sans-serif" font-size="6" fill="#1d4f9a">®</text>
<text x="662" y="1020" font-family="Liberation Sans,sans-serif" font-size="5.5" fill="#1d4f9a">NURSING CE</text>
</svg>
</body></html>
